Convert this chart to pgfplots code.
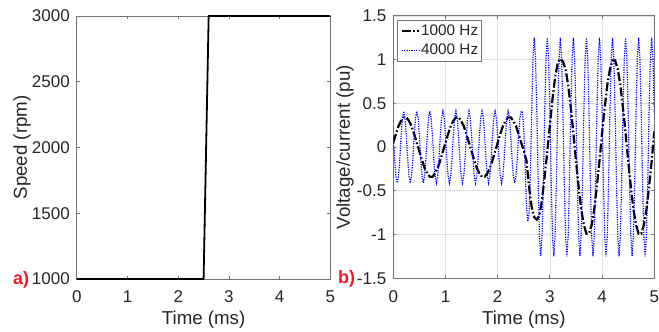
\documentclass[border=0pt]{standalone}
\usepackage{fontspec}
\setmainfont{Liberation Sans}
\usepackage{pgfplots}
\pgfplotsset{compat=1.18}
\definecolor{axgray}{gray}{0.45}
\definecolor{txt}{gray}{0.15}
\definecolor{gridc}{gray}{0.88}
\definecolor{mblue}{rgb}{0,0,1}
\definecolor{mred}{rgb}{0.95,0.1,0.15}
\begin{document}
\begin{tikzpicture}
\path[use as bounding box] (0pt,0pt) rectangle (329.5pt,166pt);
\pgfplotsset{
  every axis/.append style={
    scale only axis,
    axis line style={axgray, line width=0.4pt},
    tick style={axgray, line width=0.4pt},
    tick align=inside,
    major tick length=1.5pt,
    tick label style={font=\fontsize{8.5}{10}\selectfont, text=txt},
    label style={font=\fontsize{9.35}{11}\selectfont, text=txt},
    xticklabel style={yshift=-2.5pt},
    xmin=0, xmax=5, xtick={0,1,2,3,4,5},
    xlabel={Time (ms)},
    x label style={at={(axis description cs:0.5,0)}, anchor=center, yshift=-20.5pt},
    /pgf/number format/assume math mode=true,
    /pgf/number format/1000 sep={},
  }
}
% ---------------- a) speed ----------------
\begin{axis}[
  at={(38.4pt,26.5pt)}, anchor=south west,
  width=126.8pt, height=131.5pt,
  ymin=1000, ymax=3000, ytick={1000,1500,2000,2500,3000},
  ylabel={Speed (rpm)},
  y label style={at={(axis description cs:-0.216,0.5)}, anchor=center},
  clip=false,
]
\addplot[black, line width=0.9pt] coordinates {(0,1000)(2.5,1000)(2.6,3000)(5,3000)};
\end{axis}
% ---------------- b) voltage/current ----------------
\begin{axis}[
  at={(196.65pt,26.85pt)}, anchor=south west,
  width=130.5pt, height=131.2pt,
  ymin=-1.5, ymax=1.5, ytick={-1.5,-1,-0.5,0,0.5,1,1.5},
  yticklabels={-1.5,-1,-0.5,0,0.5,1,1.5},
  grid=major, grid style={gridc, line width=0.35pt},
  ylabel={Voltage/current (pu)},
  y label style={at={(axis description cs:-0.185,0.5)}, anchor=center},
  legend cell align=left,
  legend image code/.code={\draw[#1] (0pt,0pt) -- (8.7pt,0pt);},
  legend style={at={(0.015,0.985)}, anchor=north west, draw=axgray, line width=0.4pt,
    fill=white, inner xsep=1.5pt, inner ysep=1.75pt, row sep=2pt,
    font=\fontsize{7.65}{9}\selectfont, text=txt,
    nodes={inner sep=0pt, text height=6pt, text depth=1.5pt},
    /tikz/every odd column/.append style={column sep=0.5pt}},
]
\addplot[black, line width=1.1pt, dash pattern=on 4.5pt off 1.2pt on 0.8pt off 1.2pt] coordinates {
(0,0.05)(0.05,0.15)(0.1,0.24)(0.15,0.30)(0.2,0.34)(0.25,0.34)(0.3,0.30)(0.35,0.24)(0.4,0.15)(0.45,0.05)
(0.5,-0.05)(0.55,-0.15)(0.6,-0.24)(0.65,-0.30)(0.7,-0.34)(0.75,-0.34)(0.8,-0.30)(0.85,-0.24)(0.9,-0.15)(0.95,-0.05)
(1,0.05)(1.05,0.15)(1.1,0.24)(1.15,0.30)(1.2,0.34)(1.25,0.34)(1.3,0.30)(1.35,0.24)(1.4,0.15)(1.45,0.05)
(1.5,-0.05)(1.55,-0.15)(1.6,-0.24)(1.65,-0.30)(1.7,-0.34)(1.75,-0.34)(1.8,-0.30)(1.85,-0.24)(1.9,-0.15)(1.95,-0.05)
(2,0.05)(2.05,0.15)(2.1,0.24)(2.15,0.30)(2.2,0.34)(2.25,0.34)(2.3,0.30)(2.35,0.24)(2.4,0.15)(2.45,0.05)
(2.5,-0.04)(2.55,-0.15)(2.6,-0.45)(2.65,-0.68)(2.7,-0.80)(2.75,-0.83)(2.8,-0.78)(2.85,-0.60)(2.9,-0.33)(2.95,-0.05)
(3,0.25)(3.05,0.55)(3.1,0.80)(3.15,0.96)(3.2,1.01)(3.25,0.98)(3.3,0.89)(3.35,0.71)(3.4,0.45)(3.45,0.16)
(3.5,-0.16)(3.55,-0.45)(3.6,-0.71)(3.65,-0.89)(3.7,-0.99)(3.75,-0.99)(3.8,-0.89)(3.85,-0.71)(3.9,-0.45)(3.95,-0.16)
(4,0.16)(4.05,0.45)(4.1,0.71)(4.15,0.89)(4.2,0.99)(4.25,0.99)(4.3,0.89)(4.35,0.71)(4.4,0.45)(4.45,0.16)
(4.5,-0.16)(4.55,-0.45)(4.6,-0.71)(4.65,-0.89)(4.7,-0.99)(4.75,-0.99)(4.8,-0.89)(4.85,-0.71)(4.9,-0.45)(4.95,-0.16)
(5,0.18)
};
\addlegendentry{1000 Hz}
\addplot[mblue, line width=0.6pt, dash pattern=on 0.6pt off 0.6pt] coordinates {
(0,0.13)(0.025,-0.13)(0.05,-0.33)(0.075,-0.41)(0.1,-0.33)(0.125,-0.13)(0.15,0.13)(0.175,0.33)(0.2,0.41)(0.225,0.33)
(0.25,0.13)(0.275,-0.13)(0.3,-0.33)(0.325,-0.41)(0.35,-0.33)(0.375,-0.13)(0.4,0.13)(0.425,0.33)(0.45,0.41)(0.475,0.33)
(0.5,0.13)(0.525,-0.13)(0.55,-0.33)(0.575,-0.41)(0.6,-0.33)(0.625,-0.13)(0.65,0.13)(0.675,0.33)(0.7,0.41)(0.725,0.33)
(0.75,0.13)(0.775,-0.13)(0.8,-0.33)(0.825,-0.41)(0.85,-0.33)(0.875,-0.13)(0.9,0.13)(0.925,0.33)(0.95,0.41)(0.975,0.33)
(1,0.13)(1.025,-0.13)(1.05,-0.33)(1.075,-0.41)(1.1,-0.33)(1.125,-0.13)(1.15,0.13)(1.175,0.33)(1.2,0.41)(1.225,0.33)
(1.25,0.13)(1.275,-0.13)(1.3,-0.33)(1.325,-0.41)(1.35,-0.33)(1.375,-0.13)(1.4,0.13)(1.425,0.33)(1.45,0.41)(1.475,0.33)
(1.5,0.13)(1.525,-0.13)(1.55,-0.33)(1.575,-0.41)(1.6,-0.33)(1.625,-0.13)(1.65,0.13)(1.675,0.33)(1.7,0.41)(1.725,0.33)
(1.75,0.13)(1.775,-0.13)(1.8,-0.33)(1.825,-0.41)(1.85,-0.33)(1.875,-0.13)(1.9,0.13)(1.925,0.33)(1.95,0.41)(1.975,0.33)
(2,0.13)(2.025,-0.13)(2.05,-0.33)(2.075,-0.41)(2.1,-0.33)(2.125,-0.13)(2.15,0.13)(2.175,0.33)(2.2,0.41)(2.225,0.33)
(2.25,0.13)(2.275,-0.13)(2.3,-0.33)(2.325,-0.41)(2.35,-0.33)(2.375,-0.13)(2.4,0.13)(2.425,0.33)(2.45,0.41)(2.475,0.40)
(2.5,0.19)(2.525,-0.22)(2.55,-0.65)(2.575,-0.85)(2.6,-0.77)(2.625,-0.32)(2.65,0.36)(2.675,1.01)(2.7,1.25)(2.725,1.01)
(2.75,0.39)(2.775,-0.39)(2.8,-1.01)(2.825,-1.25)(2.85,-1.01)(2.875,-0.39)(2.9,0.39)(2.925,1.01)(2.95,1.25)(2.975,1.01)
(3,0.39)(3.025,-0.39)(3.05,-1.01)(3.075,-1.25)(3.1,-1.01)(3.125,-0.39)(3.15,0.39)(3.175,1.01)(3.2,1.25)(3.225,1.01)
(3.25,0.39)(3.275,-0.39)(3.3,-1.01)(3.325,-1.25)(3.35,-1.01)(3.375,-0.39)(3.4,0.39)(3.425,1.01)(3.45,1.25)(3.475,1.01)
(3.5,0.39)(3.525,-0.39)(3.55,-1.01)(3.575,-1.25)(3.6,-1.01)(3.625,-0.39)(3.65,0.39)(3.675,1.01)(3.7,1.25)(3.725,1.01)
(3.75,0.39)(3.775,-0.39)(3.8,-1.01)(3.825,-1.25)(3.85,-1.01)(3.875,-0.39)(3.9,0.39)(3.925,1.01)(3.95,1.25)(3.975,1.01)
(4,0.39)(4.025,-0.39)(4.05,-1.01)(4.075,-1.25)(4.1,-1.01)(4.125,-0.39)(4.15,0.39)(4.175,1.01)(4.2,1.25)(4.225,1.01)
(4.25,0.39)(4.275,-0.39)(4.3,-1.01)(4.325,-1.25)(4.35,-1.01)(4.375,-0.39)(4.4,0.39)(4.425,1.01)(4.45,1.25)(4.475,1.01)
(4.5,0.39)(4.525,-0.39)(4.55,-1.01)(4.575,-1.25)(4.6,-1.01)(4.625,-0.39)(4.65,0.39)(4.675,1.01)(4.7,1.25)(4.725,1.01)
(4.75,0.39)(4.775,-0.39)(4.8,-1.01)(4.825,-1.25)(4.85,-1.01)(4.875,-0.39)(4.9,0.39)(4.925,1.01)(4.95,1.25)(4.975,1.01)
(5,0.39)
};
\addlegendentry{4000 Hz}
\end{axis}
\node[anchor=east, text=mred, font=\fontsize{9}{10}\selectfont\bfseries, inner sep=0pt] at (14.8pt,26.3pt) {a)};
\node[anchor=east, text=mred, font=\fontsize{9}{10}\selectfont\bfseries, inner sep=0pt] at (177.8pt,26.6pt) {b)};
\end{tikzpicture}
\end{document}
